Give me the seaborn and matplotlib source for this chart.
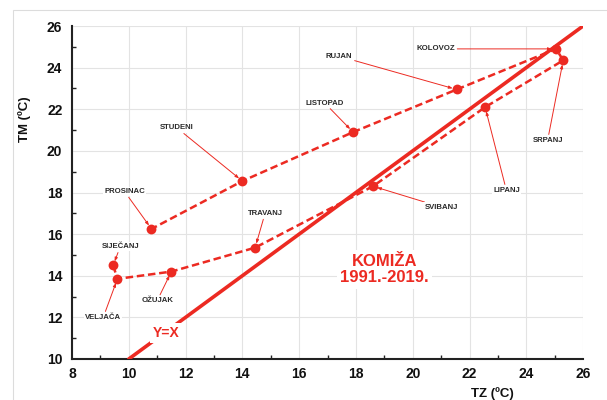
import matplotlib
matplotlib.use("Agg")
import matplotlib.pyplot as plt
from matplotlib.patches import Rectangle
from matplotlib.ticker import MultipleLocator
import numpy as np
import pandas as pd
import seaborn as sns

sns.set_theme(style="whitegrid")
plt.rcParams['font.family'] = ['Liberation Sans', 'DejaVu Sans']

# monthly mean temperatures, Komiža 1991-2019
months = ['SIJEČANJ', 'VELJAČA', 'OŽUJAK', 'TRAVANJ', 'SVIBANJ', 'LIPANJ',
          'SRPANJ', 'KOLOVOZ', 'RUJAN', 'LISTOPAD', 'STUDENI', 'PROSINAC']
tz = [9.45, 9.6, 11.5, 14.45, 18.6, 22.55, 25.3, 25.05, 21.55, 17.9, 14.0, 10.8]
tm = [14.5, 13.85, 14.2, 15.35, 18.3, 22.1, 24.35, 24.9, 22.95, 20.9, 18.55, 16.25]

# where the month names sit
label_x = [9.7, 9.1, 11.0, 14.8, 21.0, 23.3, 24.75, 20.8, 17.4, 16.9, 11.7, 9.85]
label_y = [15.4, 12.0, 12.8, 17.0, 17.3, 18.1, 20.5, 24.9, 24.55, 22.3, 21.1, 18.05]

yx_line = [10, 26]

RED = '#ec2a22'

df = pd.DataFrame({'mjesec': months, 'TZ': tz, 'TM': tm})

fig = plt.figure(figsize=(6.07, 4.0), dpi=100)
ax = fig.add_axes([0.1186, 0.1025, 0.842, 0.8325])

# Y=X reference line
sns.lineplot(x=yx_line, y=yx_line, color=RED, lw=2.6, ax=ax, zorder=3)

# monthly points joined by a dashed line
sns.lineplot(data=df, x='TZ', y='TM', sort=False, color=RED, lw=1.8,
             linestyle=(0, (3, 1.5)), ax=ax, zorder=4)
sns.scatterplot(data=df, x='TZ', y='TM', color=RED, s=50, edgecolor=RED,
                linewidth=0, ax=ax, zorder=5)

for m, x, y, lx, ly in zip(months, tz, tm, label_x, label_y):
    ax.annotate(m, xy=(x, y), xytext=(lx, ly), ha='center', va='center',
                fontsize=5.6, fontweight='bold', color='#2a2a2a',
                bbox=dict(boxstyle='square,pad=0.15', fc='white', ec='none'),
                arrowprops=dict(arrowstyle='-|>,head_length=0.4,head_width=0.15',
                                color=RED, lw=0.7, shrinkA=1, shrinkB=3),
                zorder=6)

ax.text(11.3, 11.25, 'Y=X', color=RED, fontsize=10, fontweight='bold',
        ha='center', va='center', zorder=6,
        bbox=dict(boxstyle='square,pad=0.2', fc='white', ec='none'))
ax.text(19.0, 14.3, 'KOMIŽA\n1991.-2019.', color=RED, fontsize=12,
        fontweight='bold', ha='center', va='center', linespacing=1.15, zorder=6,
        bbox=dict(boxstyle='square,pad=0.2', fc='white', ec='none'))

ax.set_xlim(8, 26)
ax.set_ylim(10, 26)
ax.xaxis.set_major_locator(MultipleLocator(2))
ax.yaxis.set_major_locator(MultipleLocator(2))
ax.xaxis.set_minor_locator(MultipleLocator(1))
ax.yaxis.set_minor_locator(MultipleLocator(1))
ax.grid(True, which='major', color='#e3e3e3', lw=0.8)
ax.grid(False, which='minor')
ax.set_axisbelow(True)

for s in ['top', 'right']:
    ax.spines[s].set_visible(False)
for s in ['left', 'bottom']:
    ax.spines[s].set_visible(True)
    ax.spines[s].set_color('#222222')
    ax.spines[s].set_linewidth(1.5)

ax.tick_params(axis='y', which='major', direction='out', length=4, width=1.2,
               color='#222222', labelsize=10, pad=3, labelcolor='#111111')
ax.tick_params(axis='y', which='minor', direction='in', length=3, width=1,
               color='#222222', left=True)
ax.tick_params(axis='x', which='major', direction='in', length=4, width=1.2,
               color='#222222', labelsize=10, pad=6, labelcolor='#111111')
ax.tick_params(axis='x', which='minor', direction='in', length=3, width=1,
               color='#222222', bottom=True)
for lab in ax.get_xticklabels() + ax.get_yticklabels():
    lab.set_fontweight('bold')

ax.set_xlabel('TZ (ºC)', fontsize=9.5, fontweight='bold', color='#111111')
ax.set_ylabel('TM (ºC)', fontsize=9.5, fontweight='bold', color='#111111')
ax.xaxis.set_label_coords(0.823, -0.085)
ax.yaxis.set_label_coords(-0.08, 0.72)

# light frame around the chart
fig.add_artist(Rectangle((13 / 607, -0.2), 1.2, 1.2 - 10 / 400,
                         transform=fig.transFigure, fill=False,
                         ec='#dcdcdc', lw=0.8))

fig.savefig('out.png', dpi=100)
